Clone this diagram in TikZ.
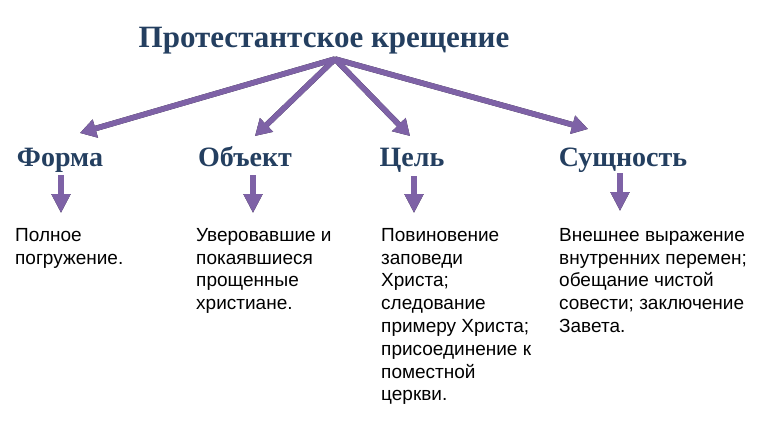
\documentclass[tikz,border=0pt]{standalone}
\usepackage{fontspec}
\setmainfont{Liberation Serif}
\newfontfamily\bodyfont{Liberation Sans}
\usetikzlibrary{arrows.meta}
\definecolor{titleblue}{HTML}{243F60}
\definecolor{arrowpurple}{HTML}{7E62A6}
\definecolor{shadowdark}{HTML}{1E1828}
\begin{document}
\begin{tikzpicture}[x=1pt,y=-1pt,
  titlestyle/.style={font=\fontsize{31}{36}\selectfont\bfseries, text=titleblue, inner sep=0, anchor=base},
  headstyle/.style={font=\fontsize{28}{30}\selectfont\bfseries, text=titleblue, inner sep=0, anchor=base},
  bodystyle/.style={font=\bodyfont\fontsize{19}{22.8}\selectfont, align=left, anchor=north west, inner sep=0},
  bigarrow/.style={line width=5.5pt, -{Triangle[width=18pt,length=16pt]}},
  smallarrow/.style={line width=6pt, -{Triangle[width=18pt,length=19pt]}},
  shadowed/.style={draw=shadowdark, fill=shadowdark, shift={(1.5,2.5)}},
  main/.style={draw=arrowpurple, fill=arrowpurple}
]
\useasboundingbox (0,0) rectangle (768,421);
\fill[white] (0,0) rectangle (768,421);

\node[titlestyle] (title) at (324,47) {Протестантское крещение};
\coordinate (apex) at (335,59);

\node[headstyle] (forma) at (60,166) {Форма};
\node[headstyle] (obj) at (245,166) {Объект};
\node[headstyle] (goal) at (412,166) {Цель};
\node[headstyle] (ess) at (623,166) {Сущность};

\coordinate (formaend) at (80,133);
\coordinate (objend) at (255,136);
\coordinate (goalend) at (410,136);
\coordinate (essend) at (588,129);

\foreach \e in {formaend,objend,goalend,essend}{
  \draw[bigarrow, shadowed] (apex) -- (\e);
}
\foreach \e in {formaend,objend,goalend,essend}{
  \draw[bigarrow, main] (apex) -- (\e);
}

\coordinate (fa) at (61,175);  \coordinate (fb) at (61,213);
\coordinate (oa) at (253,175); \coordinate (ob) at (253,213);
\coordinate (ga) at (414,176); \coordinate (gb) at (414,213);
\coordinate (ea) at (620,173); \coordinate (eb) at (620,211);

\foreach \a/\b in {fa/fb,oa/ob,ga/gb,ea/eb}{
  \draw[smallarrow, shadowed] (\a) -- (\b);
  \draw[smallarrow, main] (\a) -- (\b);
}

\node[bodystyle] (tforma) at (15,228) {Полное\\погружение.};
\node[bodystyle] (tobj) at (196,228) {Уверовавшие и\\покаявшиеся\\прощенные\\христиане.};
\node[bodystyle] (tgoal) at (381,228) {Повиновение\\заповеди\\Христа;\\следование\\примеру Христа;\\присоединение к\\поместной\\церкви.};
\node[bodystyle] (tess) at (559,228) {Внешнее выражение\\внутренних перемен;\\обещание чистой\\совести; заключение\\Завета.};
\end{tikzpicture}
\end{document}
